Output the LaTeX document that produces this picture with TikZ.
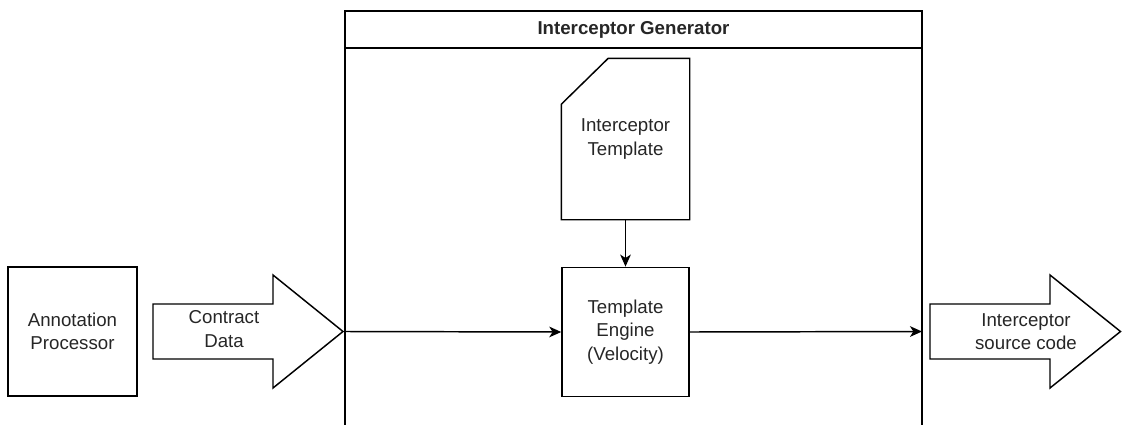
\documentclass[tikz,border=0pt]{standalone}
\usepackage{fontspec}
\setmainfont{Liberation Sans}
\usetikzlibrary{arrows.meta}
\begin{document}
\begin{tikzpicture}[x=0.75pt,y=-0.75pt,
  line width=1.1pt,
  every node/.style={font=\fontsize{14pt}{17.5pt}\selectfont, text=black!85, align=center, inner sep=0pt},
  box/.style={draw=black, rectangle},
  flow/.style={-{Stealth[length=9pt,width=8pt,inset=2.5pt]}},
  bigarrow/.style={draw=black, line join=miter}]
\useasboundingbox (0,0) rectangle (1122,425);

% Interceptor Generator container (open at the bottom)
\draw (345,425) -- (345,11) -- (922,11) -- (922,425);
\draw (345,48) -- (922,48);
\node[font=\fontsize{14pt}{17pt}\selectfont\bfseries] (title) at (633.5,29.5) {Interceptor Generator};
\coordinate (cl) at (345,331.5);
\coordinate (cr) at (922,331.5);

% Annotation processor
\node[box, minimum width=96.75pt, minimum height=96.75pt] (ap) at (72.5,331.5) {Annotation\\Processor};

% Contract data block arrow
\draw[bigarrow] (153,304) -- (273,304) -- (273,275) -- (343,331.5) -- (273,388) -- (273,359) -- (153,359) -- cycle;
\node (cd) at (224,329) {Contract\\Data};

% Template document with cut corner
\node[minimum width=95.25pt, minimum height=120pt] (tpl) at (625.5,139) {Interceptor\\Template};
\draw (tpl.south west) -- (tpl.south east) -- (tpl.north east) -- ([xshift=35.25pt]tpl.north west) -- ([yshift=-34.5pt]tpl.north west) -- cycle;

% Template engine
\node[box, minimum width=95.25pt, minimum height=97pt] (eng) at (625.5,332) {Template\\Engine\\(Velocity)};

% Output block arrow
\draw[bigarrow] (930,304) -- (1050,304) -- (1050,275) -- (1120.5,331.5) -- (1050,388) -- (1050,359) -- (930,359) -- cycle;
\node (out) at (1026,331.5) {Interceptor\\source code};

% Connectors
\draw[flow] (tpl.south) -- (eng.north);
\draw[flow] (cl) -- (eng.west);
\draw[flow] (eng.east) -- (cr);
\end{tikzpicture}
\end{document}
